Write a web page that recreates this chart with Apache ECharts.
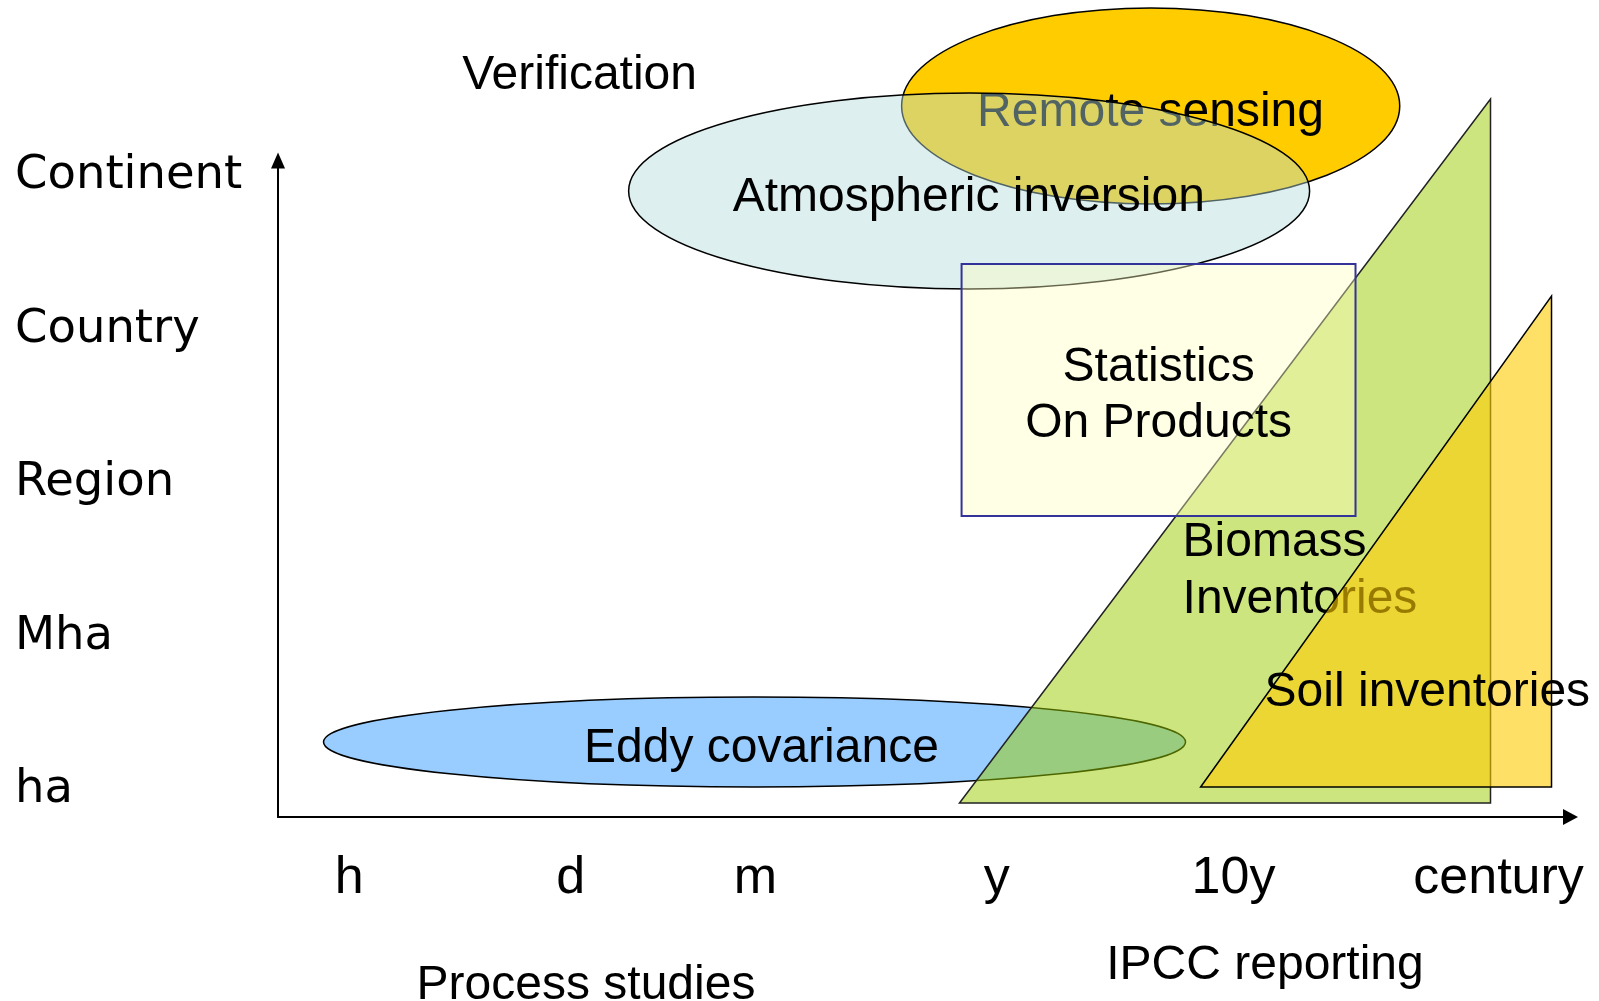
<!DOCTYPE html>
<html>
<head>
<meta charset="utf-8">
<title>Verification scales</title>
<script src="https://cdn.jsdelivr.net/npm/echarts@6.0.0/dist/echarts.min.js"></script>
<style>
  html, body { margin: 0; padding: 0; background: #fff; }
  #chart { width: 1599px; height: 1001px; }
</style>
</head>
<body>
<div id="chart"></div>
<script>
// both axes run 0..~100 along the arrows, tick spots
const xTickLabels = ['h', 'd', 'm', 'y', '10y', 'century']
const xTickPos = [5.47, 22.5, 36.7, 55.27, 73.47, 93.85]
const yTickLabels = ['ha', 'Mha', 'Region', 'Country', 'Continent']
const yTickPos = [4.05, 27.15, 50.35, 73.35, 96.55]

// ellipses: [cx, cy, rx, ry]
const remoteSensing = [67.1, 107.1, 19.15, 14.76]
const atmosphericInversion = [53.14, 94.28, 26.18, 14.76]
const eddyCovariance = [36.64, 11.3, 33.14, 6.78]
// box: [x0, yTop, x1, yBottom]
const statisticsBox = [52.56, 83.28, 82.85, 45.33]
// triangles: corners
const biomassTriangle = [[52.4, 2.11], [93.23, 108.13], [93.23, 2.11]]
const soilTriangle = [[70.94, 4.52], [97.92, 78.46], [97.92, 4.52]]

// text: [text, x, y]
const remoteText = [['Remote sensing', 67.09, 106.6]]
const atmosphericText = [['Atmospheric inversion', 53.11, 93.8]]
const eddyText = [['Eddy covariance', 37.17, 10.92]]
const biomassText = [['Biomass', 69.55, 41.91], ['Inventories', 69.55, 33.31]]
const statisticsText = [['Statistics', 67.71, 68.33], ['On Products', 67.71, 59.79]]
const soilText = [['Soil inventories', 75.86, 19.38]]
const freeText = [['Verification', 23.19, 112.2], ['Process studies', 23.68, -24.77], ['IPCC reporting', 75.89, -21.79]]

const FONT = '48px "Liberation Sans", Arial, sans-serif'
const CAP_SHIFT = 4 // canvas 'middle' sits a bit above the cap centre

// drawn in this order, later ones on top
const layers = [
  { kind: 'ellipse', geo: remoteSensing, fill: '#FFCC00', stroke: '#000', texts: remoteText, align: 'center' },
  { kind: 'ellipse', geo: atmosphericInversion, fill: 'rgba(179,219,219,0.45)', stroke: '#000', texts: atmosphericText, align: 'center' },
  { kind: 'ellipse', geo: eddyCovariance, fill: '#99CCFF', stroke: '#000', texts: eddyText, align: 'center' },
  { kind: 'polygon', geo: biomassTriangle, fill: 'rgba(153,204,0,0.5)', stroke: '#222', texts: biomassText, align: 'left' },
  { kind: 'rect', geo: statisticsBox, fill: 'rgba(255,255,191,0.4)', stroke: '#333399', width: 2, texts: statisticsText, align: 'center' },
  { kind: 'polygon', geo: soilTriangle, fill: 'rgba(255,204,0,0.6)', stroke: '#000', texts: soilText, align: 'left' },
  { kind: 'text', texts: freeText, align: 'center' }
]

const renderLayer = (params, api) => {
  const l = layers[params.dataIndex]
  const children = []
  const style = { fill: l.fill, stroke: l.stroke, lineWidth: l.width || 1.5 }
  if (l.kind === 'ellipse') {
    const [cx, cy, rx, ry] = l.geo
    const c = api.coord([cx, cy])
    const e = api.coord([cx + rx, cy + ry])
    children.push({
      type: 'ellipse',
      shape: { cx: c[0], cy: c[1], rx: Math.abs(e[0] - c[0]), ry: Math.abs(e[1] - c[1]) },
      style
    })
  } else if (l.kind === 'rect') {
    const [x0, y0, x1, y1] = l.geo
    const a = api.coord([x0, y0])
    const b = api.coord([x1, y1])
    children.push({
      type: 'rect',
      shape: { x: a[0], y: a[1], width: b[0] - a[0], height: b[1] - a[1] },
      style
    })
  } else if (l.kind === 'polygon') {
    children.push({
      type: 'polygon',
      shape: { points: l.geo.map(p => api.coord(p)) },
      style
    })
  }
  l.texts.forEach(([text, x, y]) => {
    const p = api.coord([x, y])
    children.push({
      type: 'text',
      x: p[0],
      y: p[1] + CAP_SHIFT,
      style: { text, font: FONT, fill: '#000', align: l.align, verticalAlign: 'middle' }
    })
  })
  return { type: 'group', children }
}

const chart = echarts.init(document.getElementById('chart'))

chart.setOption({
  animation: false,
  backgroundColor: '#fff',
  grid: { left: 278, right: 28.5, top: 160.4, bottom: 184, outerBoundsMode: 'none' },
  xAxis: {
    type: 'value',
    min: 0,
    max: 99.38,
    splitLine: { show: false },
    axisTick: { show: false },
    axisLine: {
      onZero: false,
      lineStyle: { color: '#000', width: 2 },
      symbol: ['none', 'triangle'],
      symbolSize: [16, 15]
    },
    axisLabel: {
      customValues: xTickPos,
      formatter: v => xTickLabels[xTickPos.indexOf(v)] || '',
      margin: 62,
      verticalAlign: 'middle',
      color: '#000',
      fontSize: 52,
      fontFamily: 'Liberation Sans'
    }
  },
  yAxis: {
    type: 'value',
    min: 0,
    max: 98.89,
    splitLine: { show: false },
    axisTick: { show: false },
    axisLine: {
      onZero: false,
      lineStyle: { color: '#000', width: 2 },
      symbol: ['none', 'triangle'],
      symbolSize: [14, 16]
    },
    axisLabel: {
      customValues: yTickPos,
      formatter: v => yTickLabels[yTickPos.indexOf(v)] || '',
      margin: 263,
      align: 'left',
      verticalAlign: 'middle',
      color: '#000',
      fontSize: 46.5,
      fontFamily: 'DejaVu Sans'
    }
  },
  series: [{
    type: 'custom',
    clip: false,
    renderItem: renderLayer,
    data: layers.map((l, i) => [i, 0])
  }]
})
</script>
</body>
</html>
